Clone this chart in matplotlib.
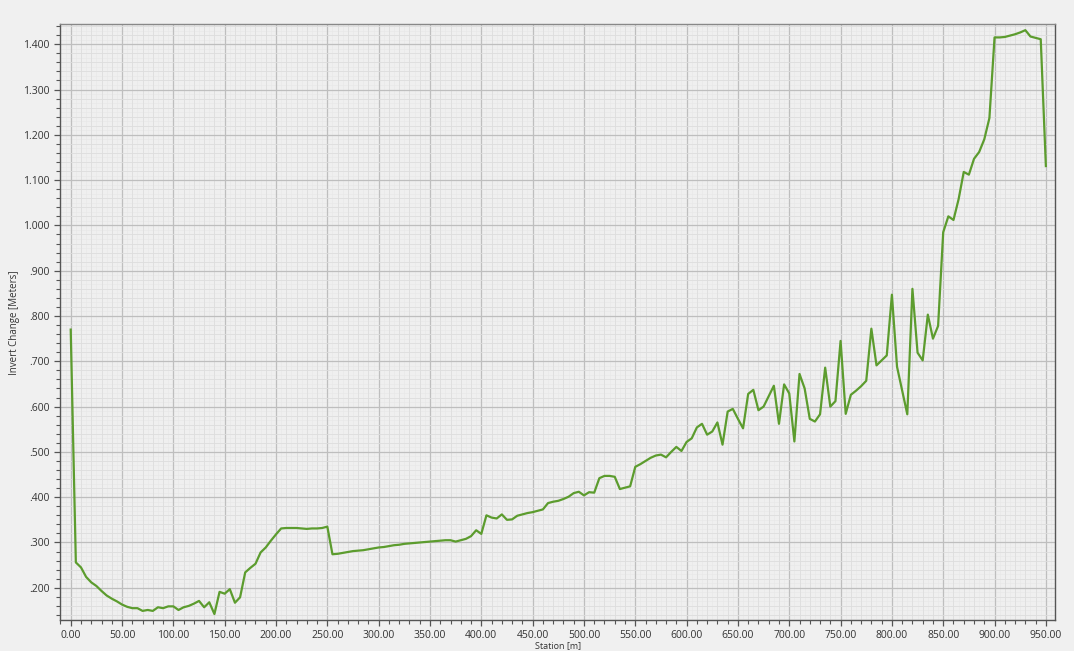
import matplotlib.pyplot as plt
from matplotlib.ticker import FuncFormatter, MultipleLocator

stations = list(range(0, 955, 5))
invert_change = [
    0.770, 0.256, 0.245, 0.224, 0.212, 0.204, 0.193, 0.183, 0.176, 0.170,
    0.163, 0.158, 0.155, 0.155, 0.149, 0.151, 0.149, 0.157, 0.155, 0.159,
    0.159, 0.151, 0.157, 0.160, 0.165, 0.171, 0.157, 0.168, 0.142, 0.191,
    0.187, 0.197, 0.167, 0.179, 0.234, 0.244, 0.253, 0.278, 0.289, 0.304,
    0.318, 0.331, 0.332, 0.332, 0.332, 0.331, 0.330, 0.331, 0.331, 0.332,
    0.335, 0.274, 0.275, 0.277, 0.279, 0.281, 0.282, 0.283, 0.285, 0.287,
    0.289, 0.290, 0.292, 0.294, 0.295, 0.297, 0.298, 0.299, 0.300, 0.301,
    0.302, 0.303, 0.304, 0.305, 0.305, 0.302, 0.305, 0.308, 0.314, 0.327,
    0.319, 0.360, 0.355, 0.353, 0.362, 0.350, 0.351, 0.359, 0.362, 0.365,
    0.367, 0.370, 0.373, 0.387, 0.390, 0.392, 0.396, 0.401, 0.409, 0.412,
    0.404, 0.411, 0.410, 0.442, 0.447, 0.447, 0.445, 0.418, 0.421, 0.424,
    0.467, 0.473, 0.480, 0.487, 0.492, 0.494, 0.488, 0.500, 0.511, 0.502,
    0.522, 0.530, 0.554, 0.562, 0.538, 0.545, 0.565, 0.516, 0.589, 0.595,
    0.573, 0.552, 0.628, 0.637, 0.592, 0.600, 0.623, 0.646, 0.562, 0.649,
    0.629, 0.523, 0.672, 0.640, 0.573, 0.567, 0.583, 0.686, 0.600, 0.612,
    0.745, 0.584, 0.626, 0.635, 0.645, 0.657, 0.772, 0.691, 0.702, 0.713,
    0.847, 0.688, 0.635, 0.583, 0.860, 0.719, 0.702, 0.803, 0.750, 0.778,
    0.985, 1.020, 1.012, 1.058, 1.118, 1.112, 1.147, 1.162, 1.190, 1.237,
    1.415, 1.415, 1.416, 1.419, 1.422, 1.426, 1.431, 1.417, 1.414, 1.411,
    1.131,
]

x_label = "Station [m]"
y_label = "Invert Change [Meters]"

plt.rcParams["font.family"] = ["Open Sans", "DejaVu Sans"]

fig = plt.figure(figsize=(10.74, 6.51), dpi=100, facecolor="#f0f0f0")
ax = fig.add_axes([0.0559, 0.047, 0.9267, 0.9157])
ax.set_facecolor("#efefef")

ax.plot(stations, invert_change, color="#5c9c2e", linewidth=1.6, zorder=5)

ax.set_xlim(-10.4, 959.2)
ax.set_ylim(0.128, 1.444)

ax.xaxis.set_major_locator(MultipleLocator(50))
ax.xaxis.set_minor_locator(MultipleLocator(10))
ax.yaxis.set_major_locator(MultipleLocator(0.1))
ax.yaxis.set_minor_locator(MultipleLocator(0.02))

# finest background grid (no ticks)
for xv in range(-5, 960, 10):
    ax.axvline(xv, color="#e8e8e8", linewidth=0.5, zorder=0)
yv = 0.13
while yv < 1.444:
    ax.axhline(yv, color="#e8e8e8", linewidth=0.5, zorder=0)
    yv += 0.02

ax.grid(which="minor", color="#dddddd", linewidth=0.6, zorder=1)
ax.grid(which="major", color="#bebebe", linewidth=0.9, zorder=2)
ax.set_axisbelow(True)

ax.xaxis.set_major_formatter(FuncFormatter(lambda v, p: f"{v:.2f}"))
ax.yaxis.set_major_formatter(
    FuncFormatter(lambda v, p: f"{v:.3f}".lstrip("0") if v < 1 else f"{v:.3f}")
)

ax.tick_params(axis="both", which="major", labelsize=7.5, labelcolor="#333333",
               color="#555555", length=4, width=0.9)
ax.tick_params(axis="both", which="minor", color="#555555", length=3, width=0.8)
ax.tick_params(axis="x", which="major", pad=3)

for side in ["left", "bottom", "top", "right"]:
    ax.spines[side].set_color("#555555")
    ax.spines[side].set_linewidth(1.0)
ax.spines["top"].set_color("#888888")

ax.set_xlabel(x_label, fontsize=6.5, color="#333333", labelpad=0)
ax.set_ylabel(y_label, fontsize=7, color="#333333", labelpad=2)

fig.savefig("out.png", dpi=100, facecolor=fig.get_facecolor())
